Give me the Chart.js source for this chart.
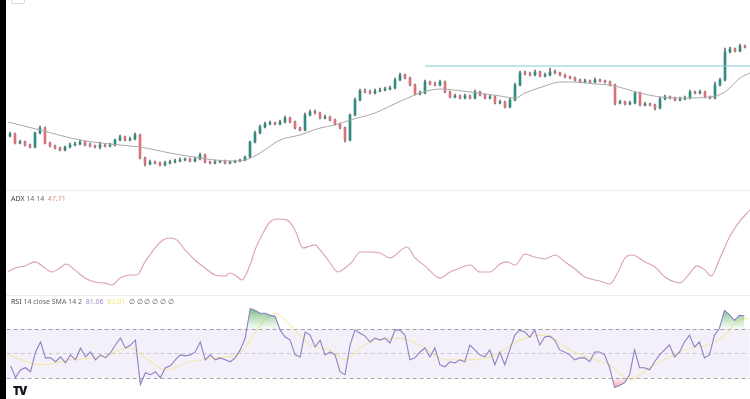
<!DOCTYPE html>
<html>
<head>
<meta charset="utf-8">
<script src="https://cdn.jsdelivr.net/npm/chart.js@4.4.1/dist/chart.umd.min.js"></script>
<style>
  body { margin: 0; background: #fff; width: 750px; height: 399px; overflow: hidden; position: relative; font-family: "Noto Sans", sans-serif; }
  .edge { position: absolute; left: 0; top: 0; width: 6px; height: 399px; background: #000; }
  .pane { position: absolute; left: 6px; }
  .sep { position: absolute; left: 6px; width: 744px; height: 1px; background: #ececec; }
  .lbl { position: absolute; left: 11px; font-size: 7px; line-height: 8px; color: #666; white-space: pre; }
  .logo { position: absolute; left: 13px; top: 382px; font-size: 12px; font-weight: 900; color: #131722; letter-spacing: -1px; }
  .tab { position: absolute; left: 11px; top: -8px; width: 12px; height: 10px; border: 1px solid #ddd; border-radius: 2px; }
</style>
</head>
<body>
<div class="edge"></div>
<div class="tab"></div>
<canvas id="mainChart" class="pane" style="top:0" width="744" height="190"></canvas>
<canvas id="adxChart" class="pane" style="top:190px" width="744" height="105"></canvas>
<canvas id="rsiChart" class="pane" style="top:296px" width="744" height="103"></canvas>
<div class="sep" style="top:190px"></div>
<div class="sep" style="top:295px"></div>
<div class="lbl" style="top:195px"><span style="color:#444">ADX</span> 14 14  <span style="color:#e08a90">47.71</span></div>
<div class="lbl" style="top:298px"><span style="color:#444">RSI</span> 14 close SMA 14 2  <span style="color:#9b8cc4">81.06</span>  <span style="color:#f0e27a">63.01</span>  ∅ ∅ ∅ ∅ ∅ ∅</div>
<div class="logo">TV</div>

<script>
// velas (precio en unidades arbitrarias, sin eje visible)
const opens = [64,66,57,58,55,53,67,72,57,54, 52,50,53,55,56,58,55,54,53,55, 54,55,60,63,60,61,65,42,36,38,
  37,35,37,38,39,40,41,39,41,45, 38,37,38,39,37,38,39,40,43,58, 67,73,76,77,76,78,82,78,72,70,
  85,88,87,82,83,80,76,72,60,85, 100,109,108,107,109,110,111,112,120,125, 122,115,106,107,118,116,115,118,108,103,
  104,102,104,102,108,105,102,103,97,98, 93,100,115,127,126,125,128,124,125,128, 127,125,123,122,120,118,119,118,120,119,
  118,115,97,98,96,97,107,95,96,95, 92,101,103,102,100,101,102,108,107,108, 103,102,115,120,148,151,149,154];
const highs = [68,67,60,59,56,68,74,73,58,55, 53,54,57,58,60,59,57,55,58,56, 57,61,65,64,63,67,66,43,40,39,
  38,39,40,41,42,42,42,43,47,46, 39,40,40,40,39,40,41,44,59,69, 75,78,79,78,80,84,83,79,73,87,
  90,90,88,85,84,81,77,73,86,102, 111,111,110,111,112,113,114,122,127,126, 123,116,109,120,119,118,120,119,109,106,
  105,106,105,110,109,106,105,104,100,99, 102,117,129,129,128,130,129,127,132,130, 128,126,124,123,121,121,120,122,121,120,
  119,116,100,99,99,108,108,98,97,96, 103,105,104,103,103,104,110,109,110,109, 104,118,122,152,153,152,156,155];
const lows = [63,56,56,54,52,52,66,56,53,51, 49,49,52,54,55,54,53,52,51,53, 53,54,59,59,59,60,41,34,35,36,
  34,34,36,37,38,39,38,38,40,37, 36,36,37,36,36,37,38,39,42,57, 66,72,75,75,75,77,77,71,69,69,
  84,86,81,81,79,75,71,58,59,84, 99,107,106,106,108,109,110,111,119,121, 114,105,105,106,115,114,114,107,102,102,
  101,101,101,101,104,101,101,96,96,92, 92,99,114,125,124,124,123,123,124,126, 124,122,121,119,117,117,117,117,118,117,
  114,95,96,95,95,96,94,94,94,90, 91,100,101,99,99,100,101,106,106,102, 101,101,114,119,147,148,148,152];
const closes = [66,57,58,55,53,67,72,57,54,52, 50,53,55,56,58,55,54,53,55,54, 55,60,63,60,61,65,42,36,38,37,
  35,37,38,39,40,41,39,41,45,38, 37,38,39,37,38,39,40,43,58,67, 73,76,77,76,78,82,78,72,70,85,
  88,87,82,83,80,76,72,60,85,100, 109,108,107,109,110,111,112,120,125,122, 115,106,107,118,116,115,118,108,103,104,
  102,104,102,108,105,102,103,97,98,93, 100,115,127,126,125,128,124,125,128,127, 125,123,122,120,118,119,118,120,119,118,
  115,97,98,96,97,107,95,96,95,92, 101,103,102,100,101,102,108,107,108,103, 102,115,120,148,151,149,154,153];

// media móvil (gris) y resistencia horizontal
const maBars   = [-0.4,6,14,22,26,32,38,44,47,50,54,58,62,65,68,73,76,80,82,86,92,98,101,103,107,110,113,117,120,126,130,134,140,143,146,148];
const maValues = [78,70,60,55,53,47,42,39,40,47,60,65,72,75,80,87,94,103,107,111,108,104,102,107,114,118,118,116,115,107,103,102,103,108,122,127];
const levelBars   = [83,148];
const levelValues = [134,134];

// ADX 14 14
const adxBars = [-0.4,1,3,5,7,8.4,10,11.2,13,15, 17,19,20.4,22,24,25.4,27,29,30.6,32, 33.4,35,37,39,41,43,44,45,46.4,48,
  49,50.4,52,53.6,55.4,57,58.6,60,61,62, 63.6,65.6,67,68.4,70,72,74,76,79.4,81, 83,86,88,90,92,94,96,98,99.4,101,
  103,105,107,109,111,113,115,118,120,121.6, 123,124.4,127,129,131,134,136,137.4,139,140.2, 142,144,146,148];
const adxValues = [18.2,20.1,21.1,23.0,20.1,18.2,20.1,22.0,19.1,15.3, 13.4,12.9,12.0,15.3,16.8,16.8,23.0,29.6,33.4,34.4,
  33.4,28.7,23.9,20.1,16.8,16.3,17.7,16.8,14.4,21.5, 28.7,35.8,42.0,43.4,43.0,38.2,29.6,30.6,31.1,28.7,
  23.9,18.2,20.1,23.0,27.7,27.7,27.2,24.9,30.1,24.9, 21.1,15.3,18.2,20.1,21.5,18.2,18.2,22.0,23.0,21.5,
  26.8,25.3,24.4,26.3,23.0,19.6,15.8,13.9,12.5,18.2, 24.9,26.3,23.0,20.6,15.8,13.0,17.7,21.1,19.1,16.3, 24.9,35.3,42.5,47.71];

// RSI 14 (una lectura por vela) y su SMA 14
const rsiValues = [39.8,30.0,36.5,38.2,34.9,51.2,59.4,46.3,46.3,43.1, 47.1,42.2,48.8,44.7,54.5,47.1,51.2,44.7,48.8,46.3,
  50.4,56.9,62.7,54.5,56.9,61.0,24.3,34.1,32.4,34.9, 30.0,38.2,39.8,44.7,48.8,48.0,48.8,51.2,59.4,44.7,
  48.8,44.7,46.3,44.7,43.1,46.3,52.9,62.7,87.1,85.5, 83.1,83.1,81.4,80.6,69.2,63.5,61.0,48.8,47.1,67.6,
  65.1,55.3,61.0,48.8,51.2,48.8,34.9,32.4,56.9,69.2, 66.7,64.3,59.4,62.7,61.0,62.7,58.6,69.2,69.2,65.1,
  44.7,46.3,51.2,54.5,47.1,54.5,40.6,39.0,43.1,42.2, 44.7,43.1,56.9,52.9,48.8,47.1,52.9,40.6,51.2,40.6,
  52.9,65.1,69.2,67.6,63.5,69.2,56.9,63.5,64.3,61.0, 52.9,51.2,48.8,44.7,46.3,46.3,43.1,51.2,51.2,48.8,
  38.2,21.8,23.5,25.9,32.4,52.9,38.2,38.2,36.5,43.1, 48.8,52.9,56.9,47.1,51.2,59.4,65.1,55.3,59.4,46.3,
  48.8,65.1,70.8,85.5,82.0,77.3,81.4,81.06];
const rsiSmaBars   = [-0.4,6,12,18,24,27,31,36,41,46, 50,53,56,60,64,67,70,73,78,82, 87,92,97,102,107,112,116,120,124,128, 132,136,140,143,146,148];
const rsiSmaValues = [48.8,40.6,44.7,47.1,54.5,46.3,36.5,43.1,46.3,50.4, 73.3,83.1,73.3,56.9,52.9,44.7,54.5,61.0,62.7,56.9,
  44.7,44.7,48.8,61.0,65.1,52.9,46.3,40.6,28.4,38.2, 47.1,54.5,56.9,65.1,77.3,79.0];
const rsiLevels = [70, 50, 30];

const UP = '#2e8b7f';
const DOWN = '#d9727b';

function toPoints(xs, ys) {
    return xs.map((x, i) => ({ x: x, y: ys[i] }));
}

function baseOptions(yMin, yMax) {
    return {
        responsive: false,
        animation: false,
        devicePixelRatio: 1,
        events: [],
        layout: { padding: 0 },
        plugins: { legend: { display: false }, tooltip: { enabled: false } },
        datasets: { bar: { grouped: false } },
        elements: { point: { radius: 0 } },
        scales: {
            x: { type: 'linear', min: -0.8, max: 148, display: false, offset: false },
            y: { min: yMin, max: yMax, display: false }
        }
    };
}

// 1. Gráfico principal de velas
const candleColors = closes.map((c, i) => c >= opens[i] ? UP : DOWN);

new Chart(document.getElementById('mainChart'), {
    type: 'bar',
    data: {
        datasets: [
            {
                type: 'line',
                data: toPoints(levelBars, levelValues),
                borderColor: '#86c9d2',
                borderWidth: 1,
                order: 0
            },
            {
                type: 'line',
                data: toPoints(maBars, maValues),
                borderColor: '#a8a8a8',
                borderWidth: 1,
                cubicInterpolationMode: 'monotone',
                order: 1
            },
            {
                data: closes.map((c, i) => ({ x: i, y: [opens[i], c] })),
                backgroundColor: candleColors,
                barThickness: 2,
                minBarLength: 1,
                order: 2
            },
            {
                data: closes.map((c, i) => ({ x: i, y: [lows[i], highs[i]] })),
                backgroundColor: '#6d6d6d',
                barThickness: 1,
                order: 3
            }
        ]
    },
    options: baseOptions(10, 200)
});

// 2. ADX
new Chart(document.getElementById('adxChart'), {
    type: 'line',
    data: {
        datasets: [{
            data: toPoints(adxBars, adxValues),
            borderColor: '#dba3a9',
            borderWidth: 1.1,
            cubicInterpolationMode: 'monotone'
        }]
    },
    options: baseOptions(7.25, 57.23)
});

// 3. RSI con banda 70/30
const rsiBand = {
    id: 'rsiBand',
    beforeDatasetsDraw(chart) {
        const { ctx, chartArea, scales } = chart;
        const y70 = scales.y.getPixelForValue(rsiLevels[0]);
        const y30 = scales.y.getPixelForValue(rsiLevels[2]);
        ctx.save();
        ctx.fillStyle = 'rgba(126, 87, 194, 0.09)';
        ctx.fillRect(chartArea.left, y70, chartArea.right - chartArea.left, y30 - y70);
        ctx.setLineDash([4, 3]);
        ctx.lineWidth = 1;
        rsiLevels.forEach((lv, k) => {
            const y = Math.round(scales.y.getPixelForValue(lv)) + 0.5;
            ctx.strokeStyle = k === 1 ? 'rgba(150,150,160,0.45)' : 'rgba(130,130,140,0.75)';
            ctx.beginPath();
            ctx.moveTo(chartArea.left, y);
            ctx.lineTo(chartArea.right, y);
            ctx.stroke();
        });
        ctx.restore();
    }
};

const rsiPoints = rsiValues.map((v, i) => ({ x: i, y: v }));

const rsiChart = new Chart(document.getElementById('rsiChart'), {
    type: 'line',
    data: {
        datasets: [
            {
                data: rsiPoints,
                borderColor: '#8f80c4',
                borderWidth: 1.1,
                fill: { target: { value: 70 }, above: 'rgba(76,175,80,0.45)', below: 'rgba(0,0,0,0)' },
                order: 1
            },
            {
                data: rsiPoints,
                borderWidth: 0,
                borderColor: 'rgba(0,0,0,0)',
                fill: { target: { value: 30 }, above: 'rgba(0,0,0,0)', below: 'rgba(242,54,69,0.35)' },
                order: 2
            },
            {
                data: toPoints(rsiSmaBars, rsiSmaValues),
                borderColor: 'rgba(245,225,130,0.6)',
                borderWidth: 1.2,
                cubicInterpolationMode: 'monotone',
                order: 3
            }
        ]
    },
    options: baseOptions(12.86, 96.9),
    plugins: [rsiBand]
});

// degradados verde / rojo como en TradingView
(function () {
    const ctx = rsiChart.ctx;
    const ys = rsiChart.scales.y;
    const g = ctx.createLinearGradient(0, ys.getPixelForValue(88), 0, ys.getPixelForValue(70));
    g.addColorStop(0, 'rgba(56,150,70,0.75)');
    g.addColorStop(1, 'rgba(120,200,120,0.08)');
    const r = ctx.createLinearGradient(0, ys.getPixelForValue(30), 0, ys.getPixelForValue(20));
    r.addColorStop(0, 'rgba(242,54,69,0.05)');
    r.addColorStop(1, 'rgba(242,54,69,0.55)');
    rsiChart.data.datasets[0].fill.above = g;
    rsiChart.data.datasets[1].fill.below = r;
    rsiChart.update('none');
})();
</script>
</body>
</html>
